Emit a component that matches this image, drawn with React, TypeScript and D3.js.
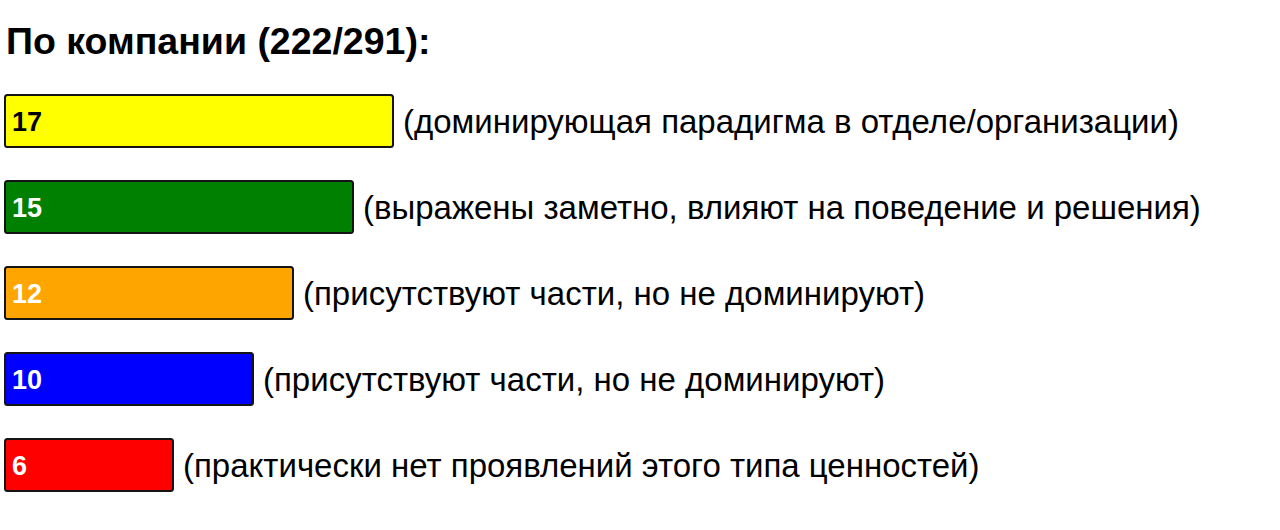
import React from 'react';
import * as d3 from 'd3';

const title = 'По компании (222/291):';
const values = [17, 15, 12, 10, 6];
const colors = ['#ffff00', '#008000', '#ffa500', '#0000ff', '#ff0000'];
const labelColors = ['#000000', '#ffffff', '#ffffff', '#ffffff', '#ffffff'];
const descriptions = [
  '(доминирующая парадигма в отделе/организации)',
  '(выражены заметно, влияют на поведение и решения)',
  '(присутствуют части, но не доминируют)',
  '(присутствуют части, но не доминируют)',
  '(практически нет проявлений этого типа ценностей)',
];

const W = 1280;
const H = 530;

export default function App() {
  // bar length = 48px base + 20px per unit
  const x = d3.scaleLinear().domain([0, 17]).range([48, 388]);
  const barH = 52;
  const gap = 34;
  const y = d3
    .scaleBand<number>()
    .domain(d3.range(values.length))
    .range([95, 95 + (barH + gap) * values.length - gap])
    .paddingInner(gap / (barH + gap))
    .paddingOuter(0);
  const font = 'Liberation Sans, Arial, Helvetica, sans-serif';

  return (
    <svg
      width={W}
      height={H}
      style={{ position: 'absolute', left: 0, top: 0, background: '#fff' }}
      fontFamily={font}
    >
      <text x={6} y={54} fontSize={37.5} fontWeight="bold" fill="#000">
        {title}
      </text>
      {values.map((v, i) => {
        const y0 = y(i) ?? 0;
        const bh = y.bandwidth();
        return (
          <g key={i}>
            <rect
              x={5}
              y={y0}
              width={x(v)}
              height={bh}
              rx={2.5}
              fill={colors[i]}
              stroke="#141414"
              strokeWidth={2}
            />
            <text
              x={12}
              y={y0 + bh / 2 + 10}
              fontSize={27}
              fontWeight="bold"
              fill={labelColors[i]}
            >
              {v}
            </text>
            <text x={5 + x(v) + 10} y={y0 + bh / 2 + 12} fontSize={33} fill="#000">
              {descriptions[i]}
            </text>
          </g>
        );
      })}
    </svg>
  );
}
